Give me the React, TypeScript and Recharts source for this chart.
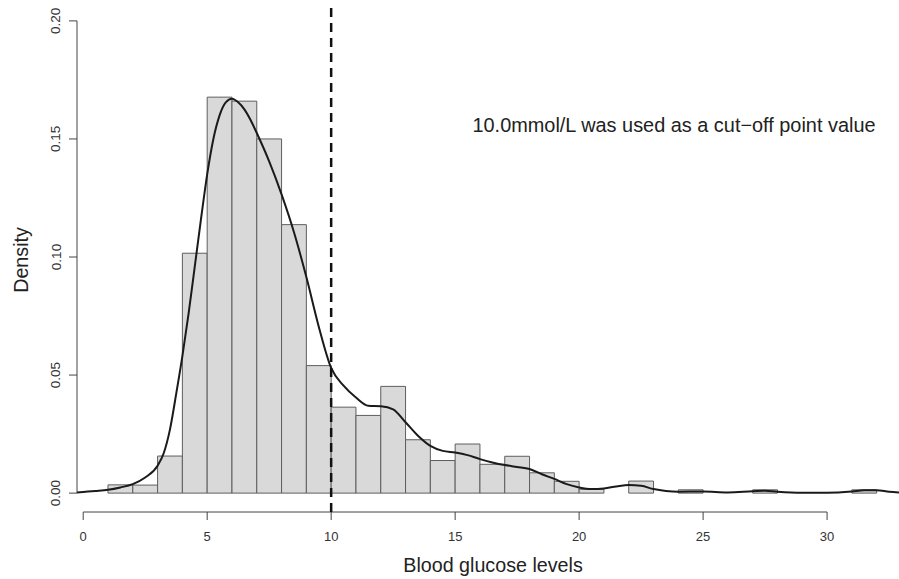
import { ComposedChart, Line, XAxis, YAxis, ReferenceArea, ReferenceLine } from 'recharts';

// histogram: bins of width 1 starting at these values, heights are densities
const binLeft = [1, 2, 3, 4, 5, 6, 7, 8, 9, 10, 11, 12, 13, 14, 15, 16, 17, 18, 19, 20, 21, 22, 23, 24, 25, 26, 27, 28, 29, 30, 31];
const binDensity = [
  0.0035, 0.0034, 0.0157, 0.1016, 0.1677, 0.166, 0.15, 0.1137, 0.054, 0.0364,
  0.0329, 0.0452, 0.0226, 0.0138, 0.0208, 0.0122, 0.0156, 0.0086, 0.005, 0.0016,
  0, 0.0051, 0, 0.0014, 0, 0, 0.0014, 0, 0, 0, 0.0014,
];
const binWidth = 1;

// kernel density curve
const kdeX = [
  -0.25, 0, 0.5, 1, 1.5, 2, 2.5, 3, 3.25, 3.5, 3.75, 4, 4.25, 4.5, 4.75, 5, 5.25, 5.5, 5.75, 6,
  6.25, 6.5, 6.75, 7, 7.5, 8, 8.5, 9, 9.5, 10, 10.5, 11, 11.5, 12, 12.5, 13, 13.5, 14, 14.5, 15,
  15.5, 16, 16.5, 17, 17.5, 18, 18.5, 19, 19.5, 20, 20.5, 21, 21.5, 22, 22.5, 23, 23.5, 24, 25, 26,
  27, 27.5, 28, 29, 30, 31, 31.5, 32, 32.5, 32.9,
];
const kdeY = [
  0.0003, 0.0005, 0.0009, 0.0014, 0.0024, 0.0038, 0.0066, 0.0116, 0.017, 0.027, 0.042, 0.058, 0.076, 0.096, 0.116, 0.135, 0.15, 0.16, 0.1655, 0.167,
  0.1655, 0.1625, 0.158, 0.1525, 0.1405, 0.1265, 0.1105, 0.0915, 0.0705, 0.053, 0.0455, 0.0405, 0.037, 0.0368, 0.0355, 0.03, 0.0243, 0.02, 0.0179, 0.0172,
  0.0161, 0.0144, 0.013, 0.0119, 0.0111, 0.0102, 0.008, 0.006, 0.0038, 0.0024, 0.0017, 0.002, 0.0028, 0.0034, 0.0031, 0.0017, 0.0009, 0.0006, 0.0007, 0.0003,
  0.0008, 0.001, 0.0006, 0.0002, 0.0002, 0.0007, 0.0012, 0.0012, 0.0006, 0.0003,
];

const xTicks = [0, 5, 10, 15, 20, 25, 30];
const yTicks = [0, 0.05, 0.1, 0.15, 0.2];
const yTickLabels = ['0.00', '0.05', '0.10', '0.15', '0.20'];
const cutoff = 10;
const note = '10.0mmol/L was used as a cut\u2212off point value';

const FONT = '"Liberation Sans", Arial, Helvetica, sans-serif';
const AXIS = '#444';

const curve = kdeX.map((x, i) => ({ x, y: kdeY[i] }));

function XTick(props: any) {
  const { x, y, payload } = props;
  return (
    <text x={x} y={y + 19} textAnchor="middle" fontSize={13} fontFamily={FONT} fill="#333">
      {payload.value}
    </text>
  );
}

function YTick(props: any) {
  const { x, y, payload } = props;
  const i = yTicks.indexOf(payload.value);
  const bx = x - 6.5;
  return (
    <text x={bx} y={y} textAnchor="middle" fontSize={13.5} fontFamily={FONT} fill="#333" transform={`rotate(-90, ${bx}, ${y})`}>
      {i >= 0 ? yTickLabels[i] : payload.value}
    </text>
  );
}

export default function App() {
  return (
    <div style={{ position: 'absolute', left: 0, top: 0, width: 899, height: 579, background: '#fff', overflow: 'hidden' }}>
      <ComposedChart width={899} height={579} data={curve} margin={{ top: 2, right: 0, bottom: 0, left: 0 }}>
        <XAxis
          type="number"
          dataKey="x"
          domain={[-0.25, 32.9]}
          ticks={xTicks}
          interval={0}
          allowDataOverflow
          height={67}
          axisLine={false}
          tickLine={{ stroke: AXIS }}
          tickSize={8}
          tick={<XTick />}
        />
        <YAxis
          type="number"
          domain={[-0.008, 0.208]}
          ticks={yTicks}
          interval={0}
          allowDataOverflow
          width={77}
          axisLine={false}
          tickLine={{ stroke: AXIS }}
          tickSize={8}
          tick={<YTick />}
        />
        {binLeft.map((b, i) =>
          binDensity[i] > 0 ? (
            <ReferenceArea
              key={b}
              x1={b}
              x2={b + binWidth}
              y1={0}
              y2={binDensity[i]}
              fill="#d9d9d9"
              fillOpacity={1}
              stroke="#5e5e5e"
              strokeWidth={1}
              ifOverflow="visible"
            />
          ) : null
        )}
        <ReferenceLine
          segment={[{ x: xTicks[0], y: -0.008 }, { x: xTicks[xTicks.length - 1], y: -0.008 }]}
          stroke={AXIS}
          ifOverflow="visible"
        />
        <ReferenceLine
          segment={[{ x: -0.25, y: yTicks[0] }, { x: -0.25, y: yTicks[yTicks.length - 1] }]}
          stroke={AXIS}
          ifOverflow="visible"
        />
        <Line
          type="monotone"
          dataKey="y"
          stroke="#1a1a1a"
          strokeWidth={2}
          dot={false}
          activeDot={false}
          isAnimationActive={false}
        />
        <ReferenceLine x={cutoff} stroke="#111" strokeWidth={2.5} strokeDasharray="9 6" ifOverflow="visible" />
      </ComposedChart>
      <svg width={899} height={579} style={{ position: 'absolute', left: 0, top: 0, pointerEvents: 'none' }}>
        <text x={674} y={132} textAnchor="middle" fontSize={19.9} fontFamily={FONT} fill="#222">
          {note}
        </text>
        <text x={493} y={572} textAnchor="middle" fontSize={19.7} fontFamily={FONT} fill="#222">
          Blood glucose levels
        </text>
        <text x={27.5} y={260} textAnchor="middle" fontSize={19.7} fontFamily={FONT} fill="#222" transform="rotate(-90, 27.5, 260)">
          Density
        </text>
      </svg>
    </div>
  );
}
